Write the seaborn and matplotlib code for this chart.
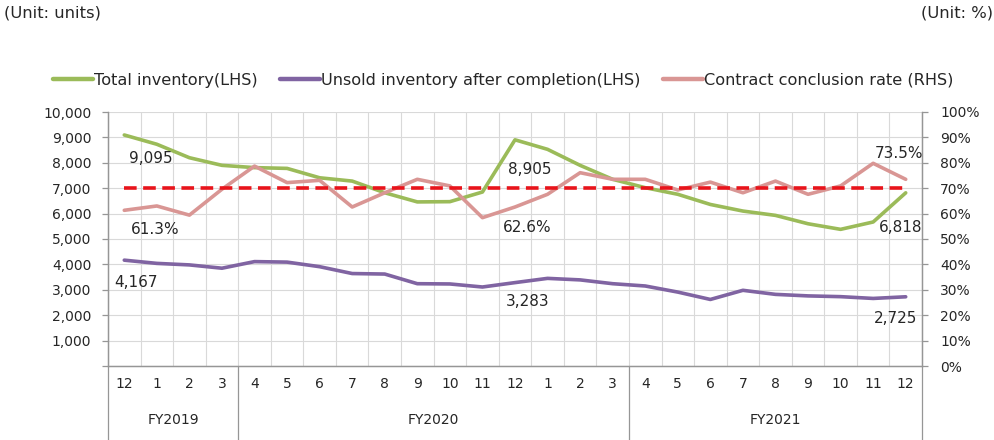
import numpy as np
import pandas as pd
import seaborn as sns
import matplotlib.pyplot as plt

# data
months = ['12', '1', '2', '3', '4', '5', '6', '7', '8', '9', '10', '11', '12',
          '1', '2', '3', '4', '5', '6', '7', '8', '9', '10', '11', '12']
fiscal_years = ['FY2019', 'FY2020', 'FY2021']
fy_lengths = [4, 12, 9]
total_inventory = [9095, 8730, 8200, 7900, 7810, 7780, 7410, 7280, 6820, 6460, 6470, 6850, 8905,
                   8530, 7900, 7350, 7020, 6760, 6360, 6100, 5930, 5600, 5380, 5670, 6818]
unsold_inventory = [4167, 4040, 3980, 3850, 4110, 4090, 3910, 3640, 3620, 3240, 3230, 3110, 3283,
                    3450, 3390, 3240, 3150, 2910, 2620, 2980, 2820, 2760, 2730, 2660, 2725]
contract_rate = [61.3, 63.0, 59.4, 69.6, 78.7, 72.2, 73.1, 62.6, 68.2, 73.5, 70.9, 58.4, 62.6,
                 67.6, 76.1, 73.5, 73.5, 69.3, 72.4, 68.2, 72.8, 67.6, 70.9, 79.8, 73.5]
target_rate = 70

df = pd.DataFrame({'idx': np.arange(len(months)), 'month': months,
                   'total': total_inventory, 'unsold': unsold_inventory, 'rate': contract_rate})

sns.set_style('white')
plt.rcParams['font.family'] = ['DejaVu Sans']
txt = '#262626'
grid_c = '#d9d9d9'
axis_c = '#969696'

fig = plt.figure(figsize=(9.95, 4.4), dpi=100)
ax = fig.add_axes([108 / 995, 1 - 366 / 440, (922 - 108) / 995, (366 - 112) / 440])
ax2 = ax.twinx()

green = '#9bbb59'
purple = '#8064a2'
pink = '#d99694'

sns.lineplot(data=df, x='idx', y='total', ax=ax, color=green, lw=2.6, label='Total inventory(LHS)')
sns.lineplot(data=df, x='idx', y='unsold', ax=ax, color=purple, lw=2.6,
             label='Unsold inventory after completion(LHS)')
sns.lineplot(data=df, x='idx', y='rate', ax=ax2, color=pink, lw=2.6, label='Contract conclusion rate (RHS)')
ax2.hlines(target_rate, df.idx.iloc[0], df.idx.iloc[-1], colors='#e8141b', linestyles=(0, (3.5, 1.8)), lw=2.6)

h1, l1 = ax.get_legend_handles_labels()
h2, l2 = ax2.get_legend_handles_labels()
ax.get_legend().remove()
ax2.get_legend().remove()
leg = fig.legend(h1 + h2, l1 + l2, loc='center', bbox_to_anchor=(503 / 995, 1 - 80 / 440), ncol=3,
                 frameon=False, handlelength=2.5, handletextpad=0.05, columnspacing=1.4,
                 fontsize=11.6, labelcolor=txt)
for ln in leg.get_lines():
    ln.set_linewidth(3.2)

# axes ranges and ticks
ax.set_xlim(-0.5, len(months) - 0.5)
ax.set_ylim(0, 10000)
ax2.set_ylim(0, 100)
yt = np.arange(0, 10001, 1000)
ax.set_yticks(yt)
ax.set_yticklabels(['' if v == 0 else f'{v:,}' for v in yt], color=txt, fontsize=10)
ax2.set_yticks(np.arange(0, 101, 10))
ax2.set_yticklabels([f'{v}%' for v in range(0, 101, 10)], color=txt, fontsize=10)
ax.set_xticks(df.idx)
ax.set_xticklabels(months, color=txt, fontsize=10)
ax.set_xticks(np.arange(-0.5, len(months), 1), minor=True)
ax.tick_params(axis='x', which='major', length=0, pad=8)
ax.tick_params(axis='x', which='minor', length=25, width=0.9, color=axis_c, direction='out')
ax.tick_params(axis='y', length=4, width=0.9, color=axis_c, pad=8)
ax2.tick_params(axis='y', length=4, width=0.9, color=axis_c, pad=9)
ax.set_xlabel('')
ax.set_ylabel('')
ax2.set_ylabel('')

ax.grid(axis='y', which='major', color=grid_c, lw=0.8)
ax.grid(axis='x', which='minor', color=grid_c, lw=0.8)
ax.set_axisbelow(True)
for a in (ax, ax2):
    a.spines['top'].set_visible(False)
    for s in ('left', 'right', 'bottom'):
        a.spines[s].set_color(axis_c)
        a.spines[s].set_linewidth(0.9)

# fiscal year rows under the month labels
bounds = np.concatenate([[0], np.cumsum(fy_lengths)]) - 0.5
for b in bounds:
    ax.axvline(b, ymin=-74 / 254, ymax=0, color=axis_c, lw=0.9, clip_on=False)
for name, lo, hi in zip(fiscal_years, bounds[:-1], bounds[1:]):
    ax.text((lo + hi) / 2, -54 / 254, name, transform=ax.get_xaxis_transform(),
            ha='center', va='center', fontsize=10, color=txt)

# data labels
def label(a, i, vals, fmt, dx, dy):
    a.annotate(fmt.format(vals[i]), (i, vals[i]), xytext=(dx, -dy), textcoords='offset pixels',
               ha='center', va='center', fontsize=11, color=txt)

last = len(months) - 1
label(ax, 0, total_inventory, '{:,}', 27, 24)
label(ax, 12, total_inventory, '{:,}', 15, 30)
label(ax, last, total_inventory, '{:,}', -5, 35)
label(ax, 0, unsold_inventory, '{:,}', 12, 22)
label(ax, 12, unsold_inventory, '{:,}', 13, 19)
label(ax, last, unsold_inventory, '{:,}', -10, 22)
label(ax2, 0, contract_rate, '{:.1f}%', 31, 19)
label(ax2, 12, contract_rate, '{:.1f}%', 12, 21)
label(ax2, last, contract_rate, '{:.1f}%', -7, -26)

fig.text(4 / 995, 1 - 13 / 440, '(Unit: units)', ha='left', va='center', fontsize=11.8, color=txt)
fig.text(993 / 995, 1 - 13 / 440, '(Unit: %)', ha='right', va='center', fontsize=11.8, color=txt)

fig.savefig('out.png', dpi=100)
